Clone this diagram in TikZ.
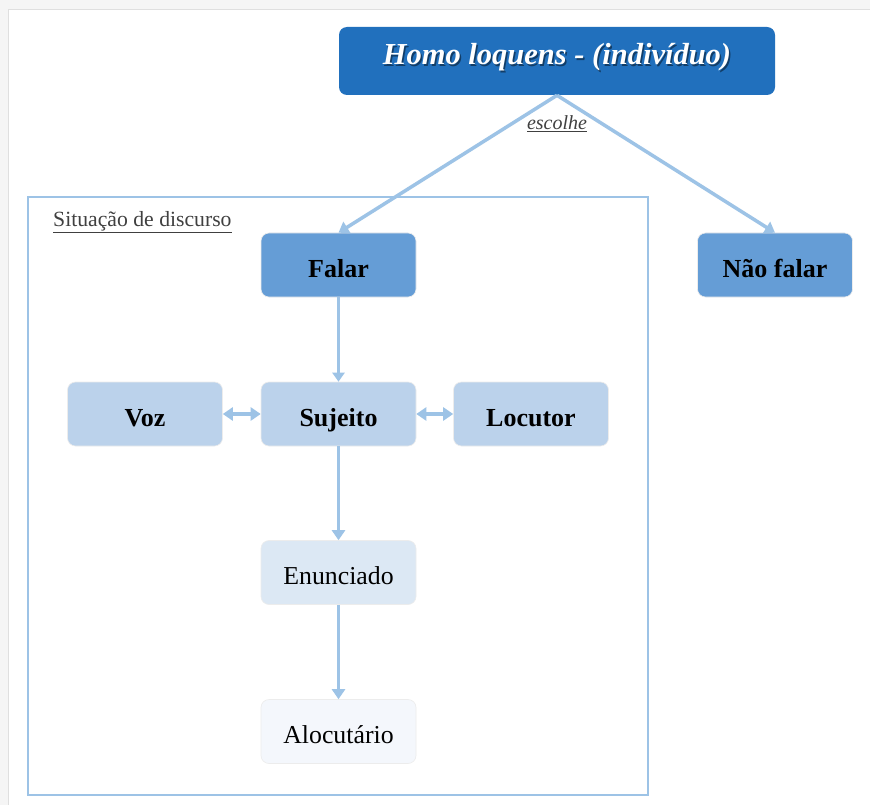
\documentclass[tikz,border=0pt]{standalone}
\usepackage{fontspec}
\setmainfont{Liberation Serif}
\usetikzlibrary{arrows.meta}
\definecolor{darkb}{RGB}{33,112,189}
\definecolor{midb}{RGB}{101,157,214}
\definecolor{lightb}{RGB}{187,210,235}
\definecolor{paleb}{RGB}{220,232,244}
\definecolor{whiteb}{RGB}{244,247,252}
\definecolor{lineb}{RGB}{157,195,230}
\definecolor{txtgray}{RGB}{64,64,64}
\tikzset{
  box/.style={rectangle, rounded corners=8pt, minimum width=155pt, minimum height=64pt, draw=white!85!gray, line width=0.6pt, inner sep=0pt, text height=28pt, text depth=4pt, font=\fontsize{26}{30}\selectfont\bfseries},
  con/.style={draw=lineb, line width=3.5pt, -{Triangle[width=13pt,length=10pt]}},
  thincon/.style={draw=lineb, line width=2.5pt, -{Triangle[width=12pt,length=9pt]}},
  dcon/.style={draw=lineb, line width=3.5pt, {Triangle[width=13pt,length=10pt]}-{Triangle[width=13pt,length=10pt]}},
}
\begin{document}
\begin{tikzpicture}[x=1pt,y=-1pt]
\useasboundingbox (0,0) rectangle (870,805);
\fill[gray!8] (0,0) rectangle (870,805);
\fill[white] (8,10) rectangle (870,805);
\draw[gray!25, line width=1pt] (8,805) -- (8,10) -- (870,10);
% frame
\draw[lineb, line width=1.5pt] (28,197) rectangle (648,795);
\node[anchor=base west, font=\fontsize{21.7}{24}\selectfont, inner sep=0pt, txtgray] (sit) at (53,226.5) {\underline{Situação de discurso}};
% top box
\node[box, fill=darkb, minimum width=436pt, minimum height=68pt, draw=none] (homo) at (557,61) {};
\node[anchor=base, inner sep=0pt, font=\fontsize{30.5}{34}\selectfont\bfseries\itshape, text=black, opacity=0.45] (homosh) at (558.5,66.5) {Homo loquens - (indivíduo)};
\node[anchor=base, inner sep=0pt, font=\fontsize{30.5}{34}\selectfont\bfseries\itshape, text=white] (homot) at (557,65) {Homo loquens - (indivíduo)};
\node[box, fill=midb] (falar) at (338.5,265) {Falar};
\node[box, fill=midb] (nao) at (775,265) {Não falar};
\node[box, fill=lightb] (voz) at (145,414) {Voz};
\node[box, fill=lightb] (suj) at (338.5,414) {Sujeito};
\node[box, fill=lightb] (loc) at (531,414) {Locutor};
\node[box, fill=paleb, font=\fontsize{25.8}{30}\selectfont] (enu) at (338.5,572.5) {Enunciado};
\node[box, fill=whiteb, font=\fontsize{25.8}{30}\selectfont] (alo) at (338.5,731.5) {Alocutário};
% connectors
\draw[con] (homo.south) -- (falar.north);
\draw[con] (homo.south) -- (nao.north);
\node[anchor=base, inner sep=0pt, font=\fontsize{20}{24}\selectfont\itshape, text=txtgray] (esc) at (557,130) {\underline{escolhe}};
\draw[thincon] (falar.south) -- (suj.north);
\draw[con] (suj.south) -- (enu.north);
\draw[con] (enu.south) -- (alo.north);
\draw[dcon] (voz.east) -- (suj.west);
\draw[dcon] (suj.east) -- (loc.west);
\end{tikzpicture}
\end{document}
